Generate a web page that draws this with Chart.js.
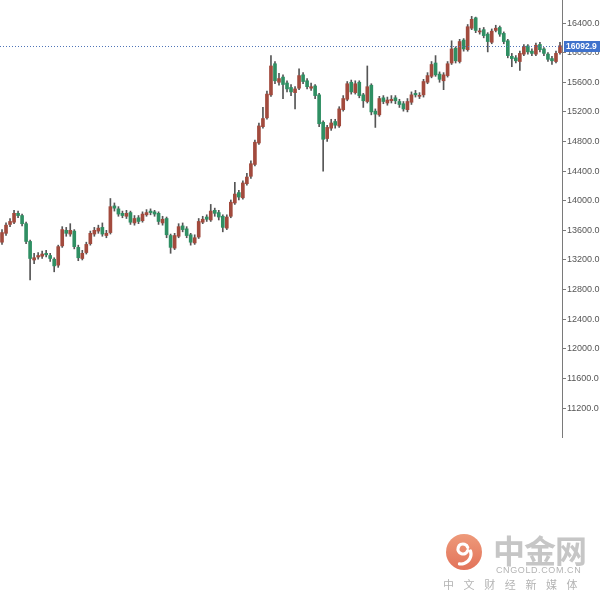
<html lang="zh">
<head>
  <meta charset="UTF-8">
  <title>K线图</title>
  <style>
    body { margin: 0; background: #fff; font-family: "Liberation Sans", Arial, sans-serif; }
    #wrap { position: relative; width: 600px; height: 600px; }
    .mark { position: absolute; color: #c4c4c4; white-space: nowrap; }
    #logo1 { left: 493px; top: 526px; font: bold 32px "Noto Sans CJK SC", sans-serif; letter-spacing: -1px; color: #c6c6c6; }
    #logo2 { left: 496px; top: 565px; font: 9px "Liberation Sans", Arial, sans-serif; letter-spacing: 0.6px; color: #b4b4b4; }
    #logo3 { left: 443px; top: 576px; font: 11px "Noto Sans CJK SC", sans-serif; letter-spacing: 9.6px; color: #b4b4b4; }
  </style>
  <script src="https://cdn.jsdelivr.net/npm/chart.js"></script>
</head>
<body>
<div id="wrap">
  <canvas id="chart" width="600" height="600"></canvas>
  <div class="mark" id="logo1">中金网</div>
  <div class="mark" id="logo2">CNGOLD.COM.CN</div>
  <div class="mark" id="logo3">中文财经新媒体</div>
</div>
<script>
  const opens = [
    13440, 13560, 13680, 13710, 13830, 13800, 13690, 13450, 13200, 13240,
    13250, 13290, 13260, 13210, 13130, 13390, 13600, 13550, 13590, 13370,
    13220, 13300, 13420, 13550, 13590, 13640, 13530, 13570, 13930, 13890,
    13830, 13790, 13840, 13700, 13770, 13730, 13810, 13860, 13850, 13830,
    13700, 13760, 13530, 13360, 13520, 13660, 13620, 13540, 13430, 13510,
    13710, 13780, 13740, 13870, 13840, 13790, 13630, 13790, 13970, 14110,
    14040, 14230, 14330, 14490, 14780, 15000, 15120, 15430, 15850, 15600,
    15670, 15590, 15530, 15460, 15520, 15700, 15620, 15520, 15550, 15430,
    15060, 14840, 14980, 15070, 15010, 15230, 15370, 15600, 15460, 15600,
    15430, 15340, 15560, 15210, 15160, 15390, 15320, 15350, 15390, 15340,
    15310, 15230, 15330, 15450, 15410, 15430, 15600, 15680, 15860, 15710,
    15620, 15690, 15860, 16060, 15880, 16170, 16040, 16330, 16470, 16280,
    16310, 16250, 16140, 16300, 16340, 16260, 16160, 15950, 15930, 15880,
    15980, 16090, 16020, 15980, 16110, 16050, 15980, 15920, 15880, 16000
  ];
  const highs = [
    13610, 13700, 13760, 13870, 13860, 13820, 13710, 13470, 13290, 13300,
    13320, 13330, 13290, 13230, 13400, 13650, 13640, 13690, 13610, 13400,
    13330, 13440, 13590, 13640, 13670, 13700, 13600, 14030, 13970, 13920,
    13860, 13870, 13860, 13800, 13800, 13850, 13880, 13890, 13870, 13850,
    13790, 13780, 13550, 13560, 13690, 13700, 13650, 13560, 13540, 13760,
    13790, 13810, 13950, 13900, 13870, 13810, 13810, 14010, 14250, 14140,
    14270, 14370, 14540, 14820, 15050, 15260, 15480, 15960, 15880, 15720,
    15700, 15620, 15570, 15540, 15780, 15730, 15650, 15590, 15570, 15450,
    15080, 15020, 15100, 15100, 15270, 15420, 15610, 15630, 15620, 15620,
    15450, 15820, 15580, 15240, 15410, 15420, 15400, 15420, 15420, 15370,
    15340, 15380, 15470, 15490, 15460, 15640, 15730, 15880, 15960, 15740,
    15730, 15880, 16160, 16080, 16180, 16190, 16380, 16490, 16480, 16330,
    16340, 16270, 16320, 16370, 16360, 16280, 16180, 15990, 15960, 16020,
    16110, 16110, 16050, 16130, 16140, 16070, 16000, 15950, 16020, 16140
  ];
  const lows = [
    13410, 13530, 13650, 13690, 13770, 13660, 13420, 12930, 13150, 13210,
    13220, 13240, 13180, 13040, 13100, 13370, 13520, 13520, 13350, 13190,
    13200, 13280, 13400, 13520, 13560, 13520, 13500, 13550, 13860, 13790,
    13770, 13760, 13680, 13670, 13690, 13710, 13790, 13810, 13790, 13680,
    13670, 13500, 13290, 13340, 13500, 13580, 13500, 13400, 13410, 13490,
    13690, 13720, 13720, 13790, 13740, 13580, 13610, 13770, 13950, 14010,
    14020, 14210, 14300, 14470, 14760, 14980, 15100, 15410, 15580, 15560,
    15380, 15470, 15420, 15240, 15500, 15580, 15510, 15490, 15380, 15000,
    14400, 14800, 14950, 14980, 14990, 15210, 15350, 15440, 15440, 15390,
    15260, 15320, 15160, 14990, 15140, 15310, 15290, 15320, 15310, 15260,
    15210, 15200, 15300, 15400, 15380, 15400, 15580, 15660, 15680, 15600,
    15500, 15670, 15840, 15860, 15860, 16020, 16020, 16310, 16270, 16250,
    16200, 16010, 16120, 16280, 16220, 16120, 15930, 15810, 15860, 15760,
    15960, 15980, 15960, 15960, 16010, 15960, 15880, 15840, 15860, 15980
  ];
  const closes = [
    13570, 13670, 13720, 13830, 13800, 13690, 13450, 13220, 13230, 13260,
    13280, 13270, 13220, 13120, 13380, 13610, 13560, 13600, 13380, 13230,
    13290, 13410, 13560, 13600, 13630, 13550, 13560, 13920, 13900, 13820,
    13800, 13830, 13710, 13760, 13720, 13820, 13840, 13840, 13820, 13720,
    13750, 13540, 13370, 13530, 13650, 13610, 13530, 13440, 13500, 13720,
    13750, 13750, 13860, 13830, 13780, 13640, 13780, 13980, 14090, 14050,
    14240, 14320, 14500, 14790, 15010, 15110, 15440, 15820, 15620, 15650,
    15570, 15510, 15470, 15510, 15690, 15610, 15540, 15540, 15420, 15040,
    14830, 14990, 15050, 15020, 15240, 15380, 15580, 15470, 15580, 15420,
    15350, 15540, 15200, 15170, 15380, 15340, 15360, 15370, 15350, 15300,
    15240, 15340, 15430, 15430, 15420, 15610, 15690, 15840, 15700, 15640,
    15700, 15850, 16050, 15890, 16150, 16050, 16350, 16450, 16300, 16290,
    16230, 16150, 16290, 16330, 16250, 16150, 15960, 15920, 15890, 15990,
    16080, 16010, 15990, 16100, 16040, 15990, 15910, 15890, 15990, 16092.9
  ];
  const lastPrice = 16092.9;
  const yTicks = [11200, 11600, 12000, 12400, 12800, 13200, 13600, 14000, 14400, 14800, 15200, 15600, 16000, 16400];
  const labels = closes.map((c, i) => i + 1);

  const upColor = '#a24a3d';
  const downColor = '#2f8f63';
  const bodyColors = closes.map((c, i) => c >= opens[i] ? upColor : downColor);

  const priceLine = {
    id: 'priceLine',
    afterDatasetsDraw(chart) {
      const { ctx, chartArea, scales: { y } } = chart;
      const py = Math.round(y.getPixelForValue(lastPrice)) + 0.5;
      ctx.save();
      ctx.strokeStyle = '#4f74b8';
      ctx.lineWidth = 1;
      ctx.setLineDash([1, 2]);
      ctx.beginPath();
      ctx.moveTo(0, py);
      ctx.lineTo(chartArea.right + 2, py);
      ctx.stroke();
      ctx.setLineDash([]);
      ctx.fillStyle = '#3f72cc';
      ctx.fillRect(chartArea.right + 2, py - 5.5, 600 - chartArea.right - 2, 11);
      ctx.fillStyle = '#fff';
      ctx.font = 'bold 8.5px "Liberation Sans", Arial, sans-serif';
      ctx.textBaseline = 'middle';
      ctx.fillText(lastPrice.toFixed(1), chartArea.right + 4, py + 0.5);
      ctx.restore();
    }
  };

  const logo = {
    id: 'logo',
    afterDraw(chart) {
      const ctx = chart.ctx;
      const cx = 464, cy = 552, r = 18;
      ctx.save();
      const g = ctx.createLinearGradient(cx, cy - r, cx, cy + r);
      g.addColorStop(0, '#ee9a7a');
      g.addColorStop(1, '#e2735a');
      ctx.fillStyle = g;
      ctx.beginPath();
      ctx.arc(cx, cy, r, 0, Math.PI * 2);
      ctx.fill();
      ctx.strokeStyle = '#fff';
      ctx.lineWidth = 3.2;
      ctx.lineCap = 'round';
      ctx.beginPath();
      ctx.arc(cx - 1, cy - 3, 5, Math.PI * 0.1, Math.PI * 1.9);
      ctx.stroke();
      ctx.beginPath();
      ctx.arc(cx - 3, cy + 2, 10, -Math.PI * 0.1, Math.PI * 0.55);
      ctx.stroke();
      ctx.restore();
    }
  };

  new Chart(document.getElementById('chart'), {
    type: 'bar',
    data: {
      labels,
      datasets: [
        {
          label: 'body',
          data: opens.map((o, i) => [o, closes[i]]),
          backgroundColor: bodyColors,
          borderWidth: 0,
          barThickness: 3,
          grouped: false,
          minBarLength: 1
        },
        {
          label: 'wick',
          data: lows.map((l, i) => [l, highs[i]]),
          backgroundColor: '#555',
          barThickness: 1,
          grouped: false
        }
      ]
    },
    options: {
      responsive: false,
      animation: false,
      layout: { padding: { left: 0, top: 0, right: 0, bottom: 163 } },
      plugins: { legend: { display: false }, tooltip: { enabled: false } },
      scales: {
        x: { display: false, offset: true },
        y: {
          position: 'right',
          min: 10809,
          max: 16711,
          afterBuildTicks: s => { s.ticks = yTicks.map(v => ({ value: v })); },
          afterFit: s => { s.width = 38; s.paddingTop = 0; s.paddingBottom = 0; },
          border: { display: true, color: '#7a7a7a', width: 1 },
          grid: { display: true, drawOnChartArea: false, drawTicks: true, tickLength: 4, color: '#7a7a7a' },
          ticks: {
            padding: 1,
            color: '#555',
            font: { size: 9, family: '"Liberation Sans", Arial, sans-serif' },
            callback: v => Number(v).toFixed(1)
          }
        }
      }
    },
    plugins: [priceLine, logo]
  });
</script>
</body>
</html>
